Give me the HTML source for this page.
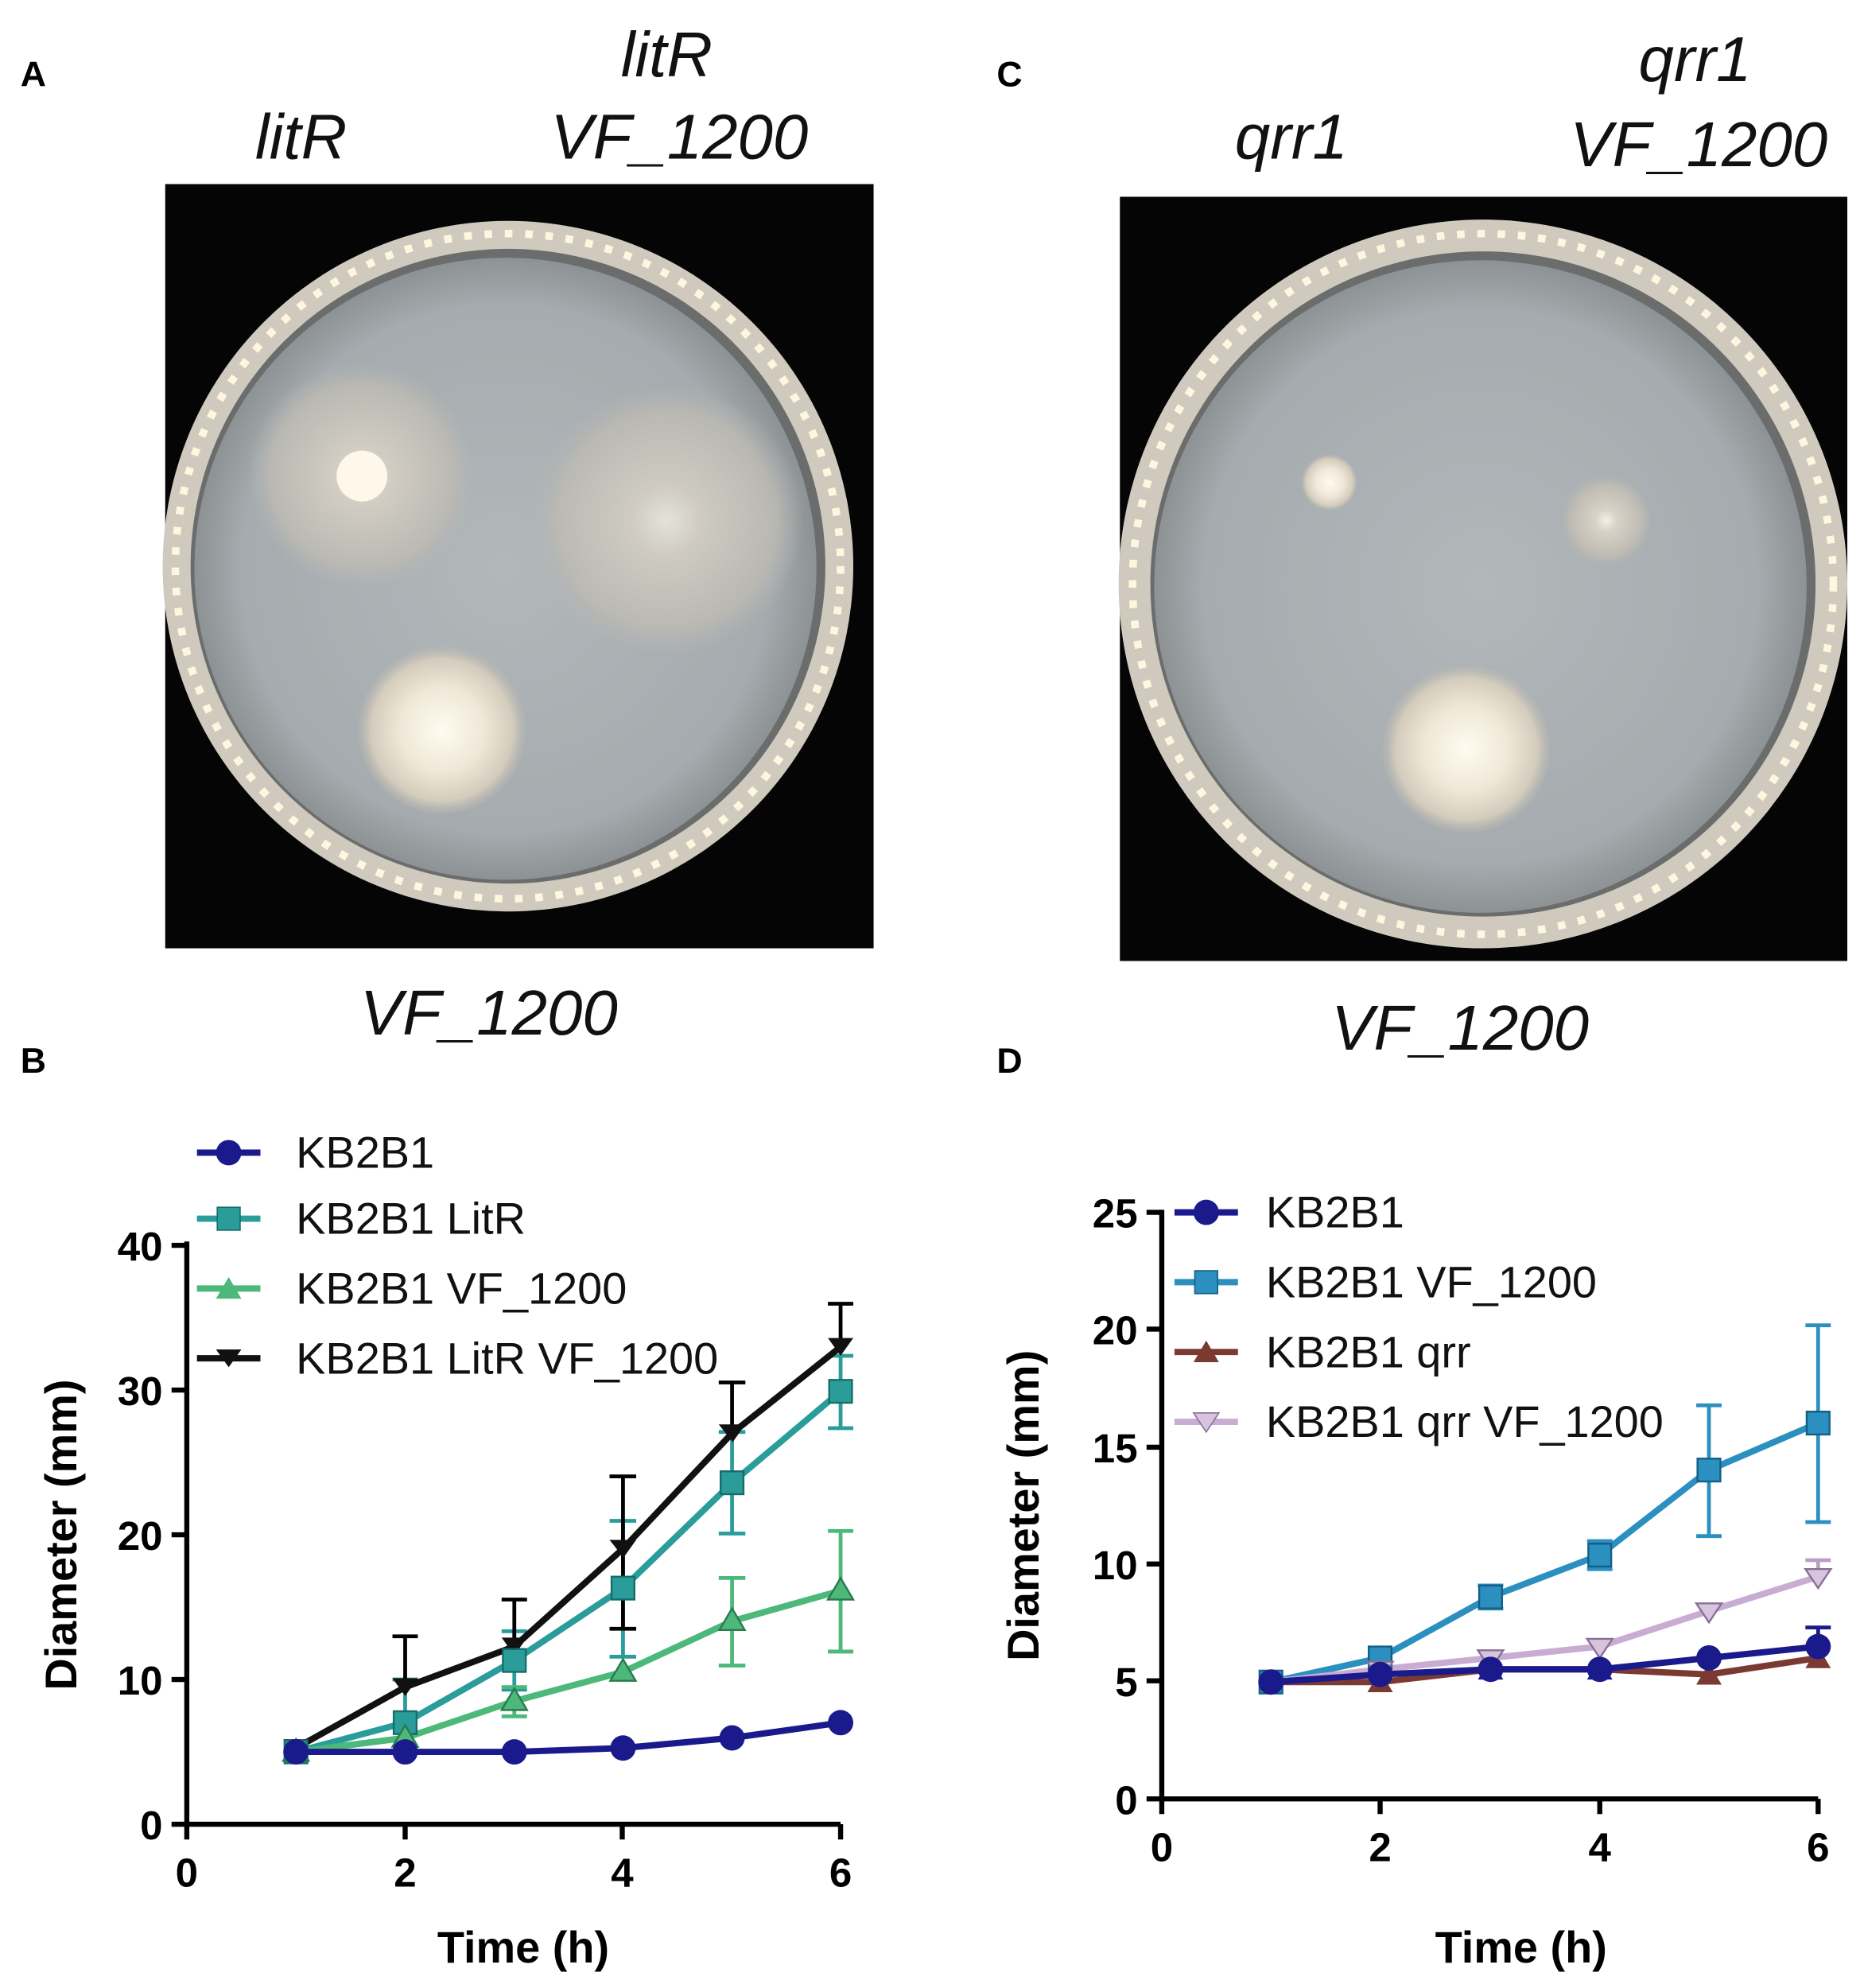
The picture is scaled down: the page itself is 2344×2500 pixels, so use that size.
<!DOCTYPE html>
<html><head><meta charset="utf-8"><style>html,body{margin:0;padding:0;background:#fff}svg{display:block}</style></head>
<body>
<svg width="2344" height="2500" viewBox="0 0 1468 1566" xmlns="http://www.w3.org/2000/svg" font-family="Liberation Sans, sans-serif">
<defs>
<radialGradient id="agar" cx="50%" cy="50%" r="50%"><stop offset="0" stop-color="#b2b8ba"/><stop offset="0.85" stop-color="#a5abae"/><stop offset="1" stop-color="#8d9294"/></radialGradient>
<radialGradient id="halo"><stop offset="0" stop-color="#f4efe2"/><stop offset="0.25" stop-color="#d8d2c6"/><stop offset="0.8" stop-color="#bdbab3"/><stop offset="1" stop-color="#b2b5b4" stop-opacity="0"/></radialGradient>
<radialGradient id="bright"><stop offset="0" stop-color="#fffbef"/><stop offset="0.5" stop-color="#efe8d8"/><stop offset="0.85" stop-color="#d3cbbb"/><stop offset="1" stop-color="#b7b7b2" stop-opacity="0.3"/></radialGradient>
</defs>
<rect width="1468" height="1566" fill="#fff"/>
<g font-weight="bold" font-size="28" fill="#000">
<text x="16" y="68">A</text><text x="785" y="68">C</text><text x="16" y="845">B</text><text x="785" y="845">D</text>
</g>
<g font-style="italic" font-size="50" fill="#111" text-anchor="middle">
<text x="237" y="125">litR</text><text x="525" y="60">litR</text><text x="535" y="125">VF_1200</text>
<text x="385" y="815">VF_1200</text>
<text x="1017" y="125">qrr1</text><text x="1335" y="64">qrr1</text><text x="1338" y="131">VF_1200</text>
<text x="1150" y="827">VF_1200</text>
</g>
<!-- plate A -->
<rect x="130" y="145" width="558" height="602" fill="#050505"/>
<circle cx="400" cy="446" r="272" fill="#cfcabd"/>
<circle cx="400" cy="446" r="262" fill="none" stroke="#fff6e0" stroke-width="6" stroke-dasharray="6 10"/>
<circle cx="400" cy="446" r="250" fill="#6b6d6d"/>
<circle cx="398" cy="448" r="245" fill="url(#agar)"/>
<circle cx="285" cy="375" r="90" fill="url(#halo)" opacity="0.85"/>
<circle cx="285" cy="375" r="20" fill="#fff8ea"/>
<circle cx="525" cy="410" r="108" fill="url(#halo)" opacity="0.8"/>
<circle cx="348" cy="575" r="66" fill="url(#bright)"/>
<!-- plate C -->
<rect x="882" y="155" width="573" height="602" fill="#050505"/>
<circle cx="1168" cy="460" r="287" fill="#cfcabd"/>
<circle cx="1168" cy="460" r="276" fill="none" stroke="#fff6e0" stroke-width="6" stroke-dasharray="6 10"/>
<circle cx="1168" cy="460" r="262" fill="#6b6d6d"/>
<circle cx="1166" cy="462" r="257" fill="url(#agar)"/>
<circle cx="1047" cy="380" r="22" fill="url(#bright)"/>
<circle cx="1265" cy="410" r="36" fill="url(#halo)"/>
<circle cx="1155" cy="590" r="66" fill="url(#bright)"/>

<!-- Chart B axes -->
<g stroke="#000" stroke-width="4" fill="none">
<path d="M147 978V1437H662"/>
<path d="M135 981H147M135 1095H147M135 1209H147M135 1323H147M135 1437H147"/>
<path d="M147 1437v12M319 1437v12M490 1437v12M662 1437v12"/>
</g>
<g font-weight="bold" font-size="32" text-anchor="end">
<text x="128" y="993">40</text><text x="128" y="1107">30</text><text x="128" y="1221">20</text><text x="128" y="1335">10</text><text x="128" y="1449">0</text>
</g>
<g font-weight="bold" font-size="32" text-anchor="middle">
<text x="147" y="1486">0</text><text x="319" y="1486">2</text><text x="490" y="1486">4</text><text x="662" y="1486">6</text>
</g>
<g font-weight="bold" font-size="35" text-anchor="middle">
<text x="412" y="1546">Time (h)</text>
<text transform="translate(60 1209) rotate(-90)">Diameter (mm)</text>
</g>
<!-- B error bars -->
<g stroke="#2a9d9b" stroke-width="3" fill="none">
<path d="M319 1357V1323M309 1323h20M405 1285v46M395 1285h20M395 1331h20M490.6 1198v107M480 1198h21M480 1305h21M576.5 1128v80M566 1128h21M566 1208h21M662 1068v57M652 1068h20M652 1125h20"/>
</g>
<g stroke="#4cb87a" stroke-width="3" fill="none">
<path d="M405 1329v23M395 1329h20M395 1352h20M576.5 1243v69M566 1243h21M566 1312h21M662 1206v95M652 1206h20M652 1301h20"/>
</g>
<g stroke="#000" stroke-width="3" fill="none">
<path d="M319 1329v-40M309 1289h20M405 1297v-37M395 1260h20M490.6 1163v120M480 1163h21M480 1283h21M576.5 1129v-40M566 1089h21M662 1061v-34M652 1027h20"/>
</g>
<!-- B lines -->
<polyline points="233,1377 319,1329 405,1297 490.6,1220 576.5,1129 662,1061" fill="none" stroke="#111" stroke-width="5"/>
<polyline points="233,1380 319,1357 405,1308 490.6,1251 576.5,1168 662,1096" fill="none" stroke="#2a9d9b" stroke-width="5"/>
<polyline points="233,1380 319,1369 405,1340 490.6,1317 576.5,1277 662,1253" fill="none" stroke="#4cb87a" stroke-width="5"/>
<polyline points="233,1380 319,1380 405,1380 490.6,1377 576.5,1369 662,1357" fill="none" stroke="#1a1a8c" stroke-width="5"/>
<g fill="#111"><path d="M223 1370h20l-10 14z M309 1322h20l-10 14z M395 1290h20l-10 14z M480 1213h21l-10 14z M566 1122h21l-10 14z M652 1054h20l-10 14z"/></g>
<g fill="#2a9d9b" stroke="#176c6a" stroke-width="1.5"><rect x="224" y="1371" width="18" height="18"/><rect x="310" y="1348" width="18" height="18"/><rect x="396" y="1299" width="18" height="18"/><rect x="481.6" y="1242" width="18" height="18"/><rect x="567.5" y="1159" width="18" height="18"/><rect x="653" y="1087" width="18" height="18"/></g>
<g fill="#4cb87a" stroke="#2a7a4e" stroke-width="1.5"><path d="M233 1370l10 17h-20z M319 1359l10 17h-20z M405 1330l10 17h-20z M490.6 1307l10 17h-20z M576.5 1267l10 17h-20z M662 1243l10 17h-20z"/></g>
<g fill="#1a1a8c"><circle cx="233" cy="1380" r="10"/><circle cx="319" cy="1380" r="10"/><circle cx="405" cy="1380" r="10"/><circle cx="490.6" cy="1377" r="10"/><circle cx="576.5" cy="1369" r="10"/><circle cx="662" cy="1357" r="10"/></g>
<!-- B legend -->
<g stroke-width="5">
<line x1="155" y1="908" x2="205" y2="908" stroke="#1a1a8c"/><line x1="155" y1="960" x2="205" y2="960" stroke="#2a9d9b"/>
<line x1="155" y1="1015" x2="205" y2="1015" stroke="#4cb87a"/><line x1="155" y1="1070" x2="205" y2="1070" stroke="#111"/>
</g>
<circle cx="180" cy="908" r="10" fill="#1a1a8c"/>
<rect x="171" y="951" width="18" height="18" fill="#2a9d9b" stroke="#176c6a"/>
<path d="M180 1006l10 17h-20z" fill="#4cb87a"/>
<path d="M170 1063h20l-10 14z" fill="#111"/>
<g font-size="35" fill="#111">
<text x="233" y="920">KB2B1</text><text x="233" y="972">KB2B1 LitR</text><text x="233" y="1027">KB2B1 VF_1200</text><text x="233" y="1082">KB2B1 LitR VF_1200</text>
</g>

<!-- Chart D axes -->
<g stroke="#000" stroke-width="4" fill="none">
<path d="M915 953V1417H1432"/>
<path d="M903 955H915M903 1047H915M903 1140H915M903 1232H915M903 1324H915M903 1417H915"/>
<path d="M915 1417v12M1087 1417v12M1260 1417v12M1432 1417v12"/>
</g>
<g font-weight="bold" font-size="32" text-anchor="end">
<text x="896" y="967">25</text><text x="896" y="1059">20</text><text x="896" y="1152">15</text><text x="896" y="1244">10</text><text x="896" y="1336">5</text><text x="896" y="1429">0</text>
</g>
<g font-weight="bold" font-size="32" text-anchor="middle">
<text x="915" y="1466">0</text><text x="1087" y="1466">2</text><text x="1260" y="1466">4</text><text x="1432" y="1466">6</text>
</g>
<g font-weight="bold" font-size="35" text-anchor="middle">
<text x="1198" y="1546">Time (h)</text>
<text transform="translate(818 1186) rotate(-90)">Diameter (mm)</text>
</g>
<g stroke="#2b8fc0" stroke-width="3" fill="none">
<path d="M1174 1249v18M1164 1249h20M1164 1267h20M1260 1214v22M1250 1214h20M1250 1236h20M1346 1107v103M1336 1107h20M1336 1210h20M1432 1044v155M1422 1044h20M1422 1199h20"/>
</g>
<g stroke="#1a1a8c" stroke-width="3"><path d="M1432 1297v-15M1422 1282h20"/></g>
<g stroke="#b9a0c2" stroke-width="3"><path d="M1432 1242v-13M1422 1229h20"/></g>
<polyline points="1001,1325 1087,1306 1174,1258 1260,1225 1346,1158 1432,1121" fill="none" stroke="#2b8fc0" stroke-width="5"/>
<polyline points="1001,1325 1087,1315 1174,1306 1260,1297 1346,1269 1432,1242" fill="none" stroke="#c8acd2" stroke-width="5"/>
<polyline points="1001,1325 1087,1325 1174,1315 1260,1315 1346,1319 1432,1306" fill="none" stroke="#7a3a32" stroke-width="5"/>
<polyline points="1001,1325 1087,1319 1174,1315 1260,1315 1346,1306 1432,1297" fill="none" stroke="#1a1a8c" stroke-width="5"/>
<g fill="#2b8fc0" stroke="#145f85" stroke-width="1.5"><rect x="992" y="1316" width="18" height="18"/><rect x="1078" y="1297" width="18" height="18"/><rect x="1165" y="1249" width="18" height="18"/><rect x="1251" y="1216" width="18" height="18"/><rect x="1337" y="1149" width="18" height="18"/><rect x="1423" y="1112" width="18" height="18"/></g>
<g fill="#d8c4de" stroke="#8a6f96" stroke-width="1.5"><path d="M1077 1309h20l-10 15z M1164 1300h20l-10 15z M1250 1291h20l-10 15z M1336 1263h20l-10 15z M1422 1236h20l-10 15z"/></g>
<g fill="#7a3a32"><path d="M1087 1316l10 17h-20z M1346 1310l10 17h-20z M1432 1297l10 17h-20z"/></g>
<g fill="#1a1a8c"><circle cx="1001" cy="1325" r="10"/><circle cx="1087" cy="1319" r="10"/><circle cx="1174" cy="1315" r="10"/><circle cx="1260" cy="1315" r="10"/><circle cx="1346" cy="1306" r="10"/><circle cx="1432" cy="1297" r="10"/></g>
<g fill="#1a1a8c"><path d="M1174 1306l10 17h-20z M1260 1306l10 17h-20z"/></g>
<g stroke-width="5">
<line x1="925" y1="955" x2="975" y2="955" stroke="#1a1a8c"/><line x1="925" y1="1010" x2="975" y2="1010" stroke="#2b8fc0"/>
<line x1="925" y1="1065" x2="975" y2="1065" stroke="#7a3a32"/><line x1="925" y1="1120" x2="975" y2="1120" stroke="#c8acd2"/>
</g>
<circle cx="950" cy="955" r="10" fill="#1a1a8c"/>
<rect x="941" y="1001" width="18" height="18" fill="#2b8fc0" stroke="#145f85"/>
<path d="M950 1056l10 17h-20z" fill="#7a3a32"/>
<path d="M940 1113h20l-10 15z" fill="#d8c4de" stroke="#8a6f96"/>
<g font-size="35" fill="#111">
<text x="997" y="967">KB2B1</text><text x="997" y="1022">KB2B1 VF_1200</text><text x="997" y="1077">KB2B1 qrr</text><text x="997" y="1132">KB2B1 qrr VF_1200</text>
</g>
</svg>
</body></html>
